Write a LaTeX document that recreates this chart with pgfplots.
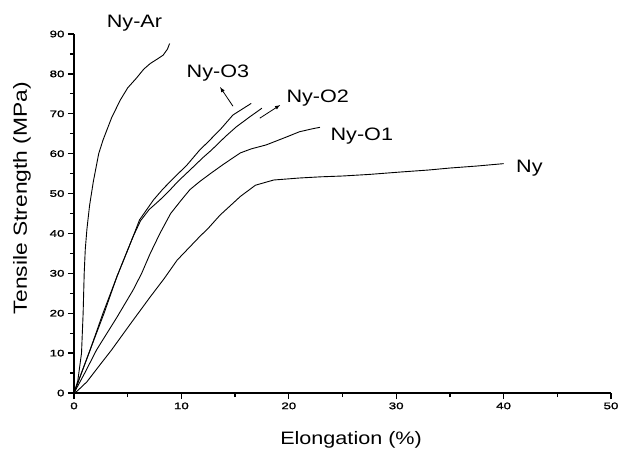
\documentclass[border=0pt]{standalone}
\usepackage{fontspec}
\setmainfont{Liberation Sans}
\newfontfamily\tickfont[FakeStretch=1.4,FakeBold=1.5]{Liberation Sans}
\newfontfamily\labfont[FakeStretch=1.2]{Liberation Sans}
\usepackage{pgfplots}
\pgfplotsset{compat=1.18}
\begin{document}
\begin{tikzpicture}
\begin{axis}[
  name=ax,
  width=537pt, height=359pt, scale only axis,
  xmin=0, xmax=50, ymin=0, ymax=90,
  axis x line*=bottom, axis y line*=left,
  axis line style={line width=1.6pt,-},
  xtick={0,10,...,50}, ytick={0,10,...,90},
  minor x tick num=1, minor y tick num=1,
  tick align=outside,
  major tick length=6pt, minor tick length=4pt,
  every tick/.style={line width=1.3pt,black},
  /pgf/number format/assume math mode=true,
  ticklabel style={font=\tickfont\fontsize{9.5}{11}\selectfont},
  xlabel={Elongation (\%)},
  ylabel={Tensile Strength (MPa)},
  xlabel style={font=\labfont\fontsize{18}{21}\selectfont, at={(axis description cs:0.516,-0.131)}, anchor=center},
  ylabel style={font=\labfont\fontsize{19}{22}\selectfont, at={(axis description cs:-0.097,0.543)}, anchor=center},
  clip=false,
  cycle list={{black}},
  every axis plot/.append style={line width=0.9pt, line join=round},
  no markers,
]
% Ny-Ar
\addplot coordinates {(0,0) (0.35,3) (0.7,10) (0.85,20) (0.95,30) (1.05,36) (1.2,41) (1.45,47) (1.8,53) (2.3,60) (2.7,63.4) (3.5,69) (4.3,73.4) (5.0,76.5) (5.8,78.9) (6.5,81.2) (7.1,82.6) (7.8,83.8) (8.3,84.7) (8.7,86.2) (8.9,87.6)};
% Ny-O3
\addplot coordinates {(0,0) (1.5,10.8) (2.7,20) (4.0,29.2) (5.5,39.2) (6.1,43.4) (7.4,48.4) (8.3,51.2) (9.4,54.2) (10.5,57.1) (11.7,60.9) (12.5,63) (13.7,66.3) (14.8,69.7) (16.5,72.6)};
% Ny-O2
\addplot coordinates {(0,0) (1.5,10.8) (2.8,20) (4.0,29.2) (5.5,39.2) (6.2,43.2) (7.0,46) (8.0,48.4) (8.8,50.5) (9.7,53.1) (10.8,55.9) (12.0,59) (12.8,60.9) (14.1,64.3) (15.1,66.7) (16.4,69.3) (17.5,71.4)};
% Ny-O1
\addplot coordinates {(0,0) (1.0,5) (2.1,10.8) (4.0,19) (5.5,25.8) (6.3,30) (7.1,35) (8.0,40) (9.0,45) (10.0,48.4) (10.8,51) (11.7,53) (12.7,55) (14,57.5) (15.5,60.2) (16.5,61.2) (17.9,62.2) (19.8,64.2) (21.0,65.5) (22.3,66.3) (22.9,66.6)};
% Ny
\addplot coordinates {(0,0) (0.3,0.5) (1.2,2.8) (2.4,7) (3.5,10.8) (5.3,17.5) (7.1,24.1) (8.4,28.7) (9.6,33.3) (11.7,39.2) (12.5,41.3) (13.6,44.6) (15.5,49.3) (16.9,52.1) (18.6,53.4) (21,53.9) (23,54.2) (25,54.4) (27.5,54.8) (30.4,55.4) (33,55.9) (35,56.4) (37.5,56.9) (40,57.5)};
\node[font=\labfont\fontsize{18}{21}\selectfont, anchor=center] at (axis cs:5.63,92.6) {Ny-Ar};
\node[font=\labfont\fontsize{18}{21}\selectfont, anchor=center] at (axis cs:13.4,80.1) {Ny-O3};
\node[font=\labfont\fontsize{18}{21}\selectfont, anchor=center] at (axis cs:22.7,73.9) {Ny-O2};
\node[font=\labfont\fontsize{18}{21}\selectfont, anchor=center] at (axis cs:26.8,64.4) {Ny-O1};
\node[font=\labfont\fontsize{18}{21}\selectfont, anchor=center] at (axis cs:42.4,56.4) {Ny};
\draw[-latex, line width=0.8pt] (axis cs:14.8,71.9) -- (axis cs:13.6,76.7);
\draw[-latex, line width=0.8pt] (axis cs:17.3,68.9) -- (axis cs:19.2,72.2);
\end{axis}
\pgfresetboundingbox
\path (ax.south west) ++(-74pt,-60pt) rectangle ++(621pt,453pt);
\end{tikzpicture}
\end{document}
